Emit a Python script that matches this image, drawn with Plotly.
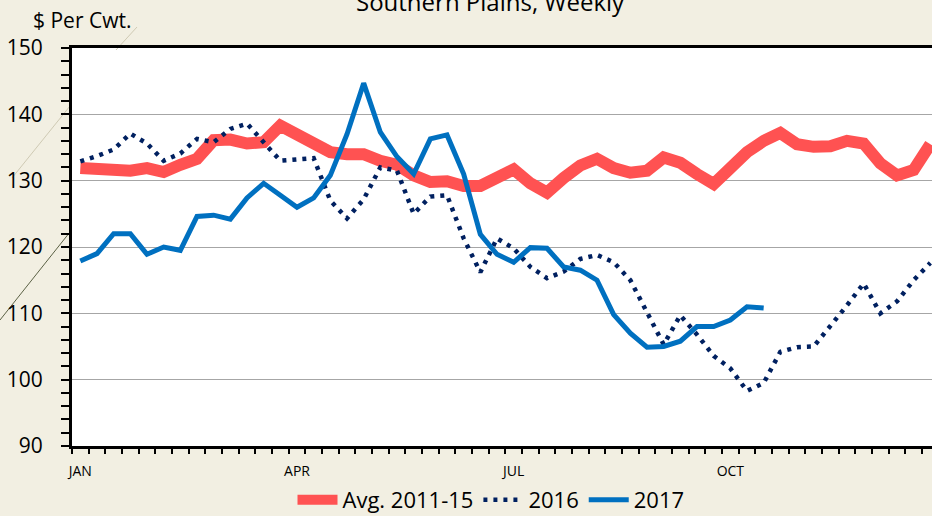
import plotly.graph_objects as go

weeks = list(range(52))
month_ticks = [0, 13, 26, 39]
month_labels = ["JAN", "APR", "JUL", "OCT"]

avg_2011_15 = [131.9, 131.7, 131.5, 131.5, 131.9, 131.3, 132.4, 133.3, 136.1, 136.2,
               135.6, 135.8, 138.3, 136.9, 135.3, 134.3, 134.0, 134.0, 133.0, 132.4,
               130.8, 129.8, 129.9, 129.2, 129.2, 130.5, 131.7, 129.6, 128.2, 130.4,
               132.3, 133.3, 131.9, 131.2, 131.5, 133.5, 132.7, 131.0, 129.5, 131.9,
               134.3, 136.0, 137.2, 135.5, 135.1, 135.2, 136.0, 135.6, 132.6, 130.8,
               131.6, 135.5]

y2016 = [132.9, 133.7, 134.7, 137.1, 135.6, 133.0, 134.1, 136.3, 135.8, 137.8,
         138.6, 135.8, 133.0, 133.2, 133.4, 127.0, 124.3, 127.2, 132.0, 131.5,
         125.0, 127.6, 127.8, 121.3, 116.2, 121.3, 119.8, 117.0, 115.3, 116.3,
         118.2, 118.8, 117.7, 115.0, 110.0, 105.3, 109.7, 106.8, 103.6, 101.7,
         98.3, 99.5, 104.2, 104.9, 105.0, 108.0, 111.2, 114.5, 110.0, 111.8,
         115.0, 117.6]

y2017 = [117.9, 119.0, 122.0, 122.0, 118.9, 120.0, 119.5, 124.6, 124.8, 124.2,
         127.4, 129.6, 127.8, 126.0, 127.4, 130.8, 137.0, 144.7, 137.3, 133.6,
         131.0, 136.3, 136.9, 131.0, 121.9, 118.9, 117.7, 119.9, 119.8, 117.0,
         116.5, 115.0, 109.8, 107.0, 104.9, 105.0, 105.8, 108.0, 108.0, 109.0,
         111.0, 110.8]

FONT = "Open Sans"

fig = go.Figure()
fig.add_trace(go.Scatter(x=weeks, y=avg_2011_15, mode="lines", name="Avg. 2011-15",
                         line=dict(color="#FF5252", width=12)))
fig.add_trace(go.Scatter(x=weeks, y=y2016, mode="lines", name="2016",
                         line=dict(color="#002060", width=4.5, dash="4px,6px")))
fig.add_trace(go.Scatter(x=weeks[:len(y2017)], y=y2017, mode="lines", name="2017",
                         line=dict(color="#0070C0", width=5)))

L, T, B = 72, 48, 70
W, H = 932, 516
PW, PH = W - L, H - T - B

def px(x):
    return (x - L) / PW

def py(y):
    return (H - B - y) / PH

fig.update_layout(
    width=W, height=H,
    margin=dict(l=L, r=0, t=T, b=B, autoexpand=False),
    paper_bgcolor="#f2efe2",
    plot_bgcolor="white",
    font=dict(family=FONT, color="black"),
    showlegend=True,
    legend=dict(orientation="h", x=px(491), xanchor="center", y=py(500), yanchor="middle",
                font=dict(size=22, family=FONT), bgcolor="rgba(0,0,0,0)",
                itemwidth=40, tracegroupgap=0),
    xaxis=dict(range=[-0.5, 51.1], tickmode="array", tickvals=month_ticks, ticktext=month_labels,
               ticks="", showgrid=False, zeroline=False, showline=True, linecolor="black",
               linewidth=3, mirror=True, tickfont=dict(size=14, family=FONT),
               ticklabelstandoff=10,
               minor=dict(tickmode="linear", tick0=-0.5, dtick=1, ticks="outside", ticklen=5,
                          tickwidth=1.5, tickcolor="black", showgrid=False)),
    yaxis=dict(range=[90, 150], tickmode="linear", tick0=90, dtick=10, ticks="outside",
               ticklen=8, tickwidth=1.5, tickcolor="black", showgrid=True, gridcolor="#a6a6a6",
               gridwidth=1, zeroline=False, showline=True, linecolor="black", linewidth=3,
               tickfont=dict(size=21, family=FONT), ticklabelstandoff=14,
               minor=dict(tickmode="linear", tick0=90, dtick=2, ticks="outside", ticklen=8,
                          tickwidth=1.5, tickcolor="black", showgrid=False)),
    shapes=[
        dict(type="line", xref="paper", yref="paper", x0=px(0), y0=py(320), x1=px(70), y1=py(232),
             line=dict(color="#5b6145", width=1), layer="below"),
        dict(type="line", xref="paper", yref="paper", x0=px(12), y0=py(178), x1=px(70), y1=py(106),
             line=dict(color="#cfcab4", width=1), layer="below"),
        dict(type="line", xref="paper", yref="paper", x0=px(116), y0=py(50), x1=px(137), y1=py(27),
             line=dict(color="#cfcab4", width=1), layer="below"),
    ],
    annotations=[
        dict(text="Southern Plains, Weekly", xref="paper", yref="paper", x=px(490), y=py(1),
             xanchor="center", yanchor="middle", showarrow=False,
             font=dict(size=24, family=FONT, color="black")),
        dict(text="$ Per Cwt.", xref="paper", yref="paper", x=px(31), y=py(20),
             xanchor="left", yanchor="middle", showarrow=False,
             font=dict(size=21, family=FONT, color="black")),
    ],
)

fig.write_html("out.html", config={"displayModeBar": False},
               post_script="document.body.style.margin='0';document.body.style.overflow='hidden';")
